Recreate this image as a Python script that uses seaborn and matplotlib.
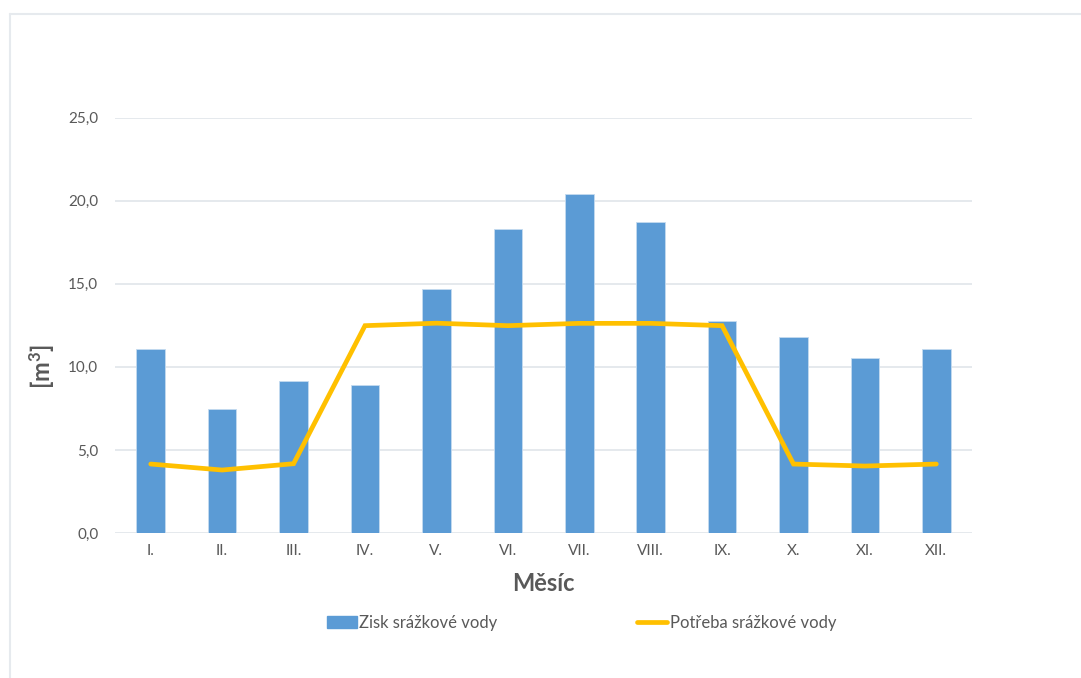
import numpy as np
import pandas as pd
import matplotlib
matplotlib.use("Agg")
import matplotlib.pyplot as plt
from matplotlib.lines import Line2D
from matplotlib.patches import Patch
import seaborn as sns

months = ["I.", "II.", "III.", "IV.", "V.", "VI.", "VII.", "VIII.", "IX.", "X.", "XI.", "XII."]
zisk = [11.06, 7.45, 9.12, 8.88, 14.67, 18.28, 20.42, 18.74, 12.75, 11.78, 10.56, 11.06]
potreba = [4.15, 3.79, 4.17, 12.48, 12.63, 12.48, 12.62, 12.62, 12.48, 4.15, 4.03, 4.15]
yticks = [0, 5, 10, 15, 20, 25]
series_names = ["Zisk srážkové vody", "Potřeba srážkové vody"]

bar_color = "#5B9BD5"
line_color = "#FFC000"
text_color = "#595959"
grid_color = "#E3E7EC"

sns.set_theme(style="white")
plt.rcParams['font.family'] = ['Lato', 'DejaVu Sans']
plt.rcParams['mathtext.fontset'] = 'custom'
plt.rcParams['mathtext.rm'] = 'Lato'
plt.rcParams['mathtext.bf'] = 'Lato:bold'

df = pd.DataFrame({"Měsíc": months, "zisk": zisk, "potreba": potreba})

fig = plt.figure(figsize=(10.81, 6.78), dpi=100)
ax = fig.add_axes([0.1064, 0.2139, 0.7928, 0.6125])

sns.barplot(data=df, x="Měsíc", y="zisk", order=months, color=bar_color,
            width=0.4, saturation=1, edgecolor="#C5DBF0", linewidth=0.6, ax=ax, zorder=2)
sns.pointplot(data=df, x="Měsíc", y="potreba", order=months, color=line_color,
              markers="", linestyles="-", ax=ax, zorder=3)
for ln in ax.lines:
    ln.set_linewidth(3.4)
    ln.set_solid_capstyle("round")
    ln.set_solid_joinstyle("miter")

ax.set_ylim(0, 25)
ax.set_xlim(-0.5, len(months) - 0.5)
ax.set_yticks(yticks)
ax.set_yticklabels([f"{v:.1f}".replace(".", ",") for v in yticks])
ax.yaxis.grid(True, color=grid_color, linewidth=1.3, zorder=0)
ax.set_axisbelow(True)
for s in ax.spines.values():
    s.set_visible(False)
ax.tick_params(axis="both", length=0, colors=text_color, labelsize=11)
ax.tick_params(axis="y", pad=12)
ax.tick_params(axis="x", pad=8)

ax.set_xlabel("Měsíc", fontsize=17, fontweight="bold", color=text_color)
ax.xaxis.set_label_coords(0.5, -0.095)
ax.set_ylabel(r"$\mathbf{[m^3]}$", fontsize=17, fontweight="bold", color=text_color)
ax.yaxis.set_label_coords(-0.068, 0.4)

handles = [Patch(facecolor=bar_color, edgecolor=bar_color),
           Line2D([0], [0], color=line_color, linewidth=3.4)]
fig.legend(handles, series_names, loc="center", bbox_to_anchor=(0.538, 0.081), ncol=2,
           frameon=False, fontsize=12, labelcolor=text_color, columnspacing=8.4,
           handlelength=1.8, handletextpad=0.15)

# outer chart frame (top and left edges)
fig.add_artist(Line2D([10/1081, 10/1081], [0, 1 - 14/678], transform=fig.transFigure,
                      color="#E6EAEE", linewidth=1.5))
fig.add_artist(Line2D([10/1081, 1], [1 - 14/678, 1 - 14/678], transform=fig.transFigure,
                      color="#E6EAEE", linewidth=1.5))

fig.savefig("out.png", dpi=100, facecolor="white")
